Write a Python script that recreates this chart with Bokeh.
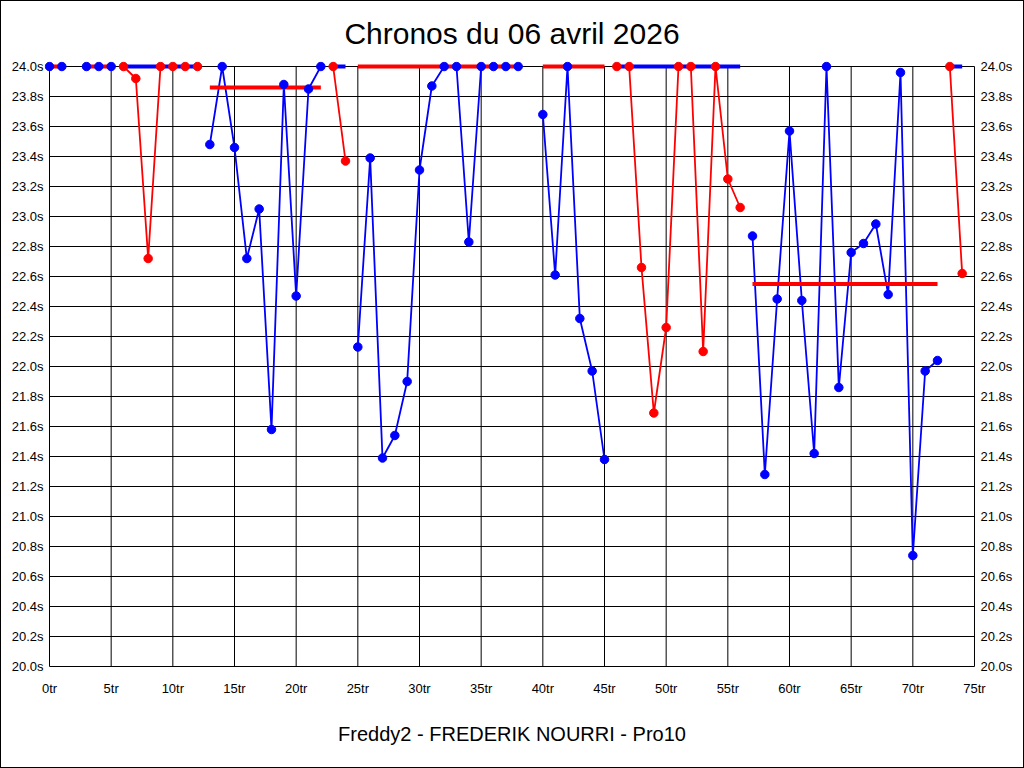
from bokeh.plotting import figure
from bokeh.models import Range1d, LinearAxis, FixedTicker, PrintfTickFormatter, Title
from bokeh.embed import file_html
from bokeh.resources import INLINE

TITLE = "Chronos du 06 avril 2026"
SUBTITLE = "Freddy2 - FREDERIK NOURRI - Pro10"

X_TICKS = [0, 5, 10, 15, 20, 25, 30, 35, 40, 45, 50, 55, 60, 65, 70, 75]
Y_TICKS = [20.0, 20.2, 20.4, 20.6, 20.8, 21.0, 21.2, 21.4, 21.6, 21.8,
           22.0, 22.2, 22.4, 22.6, 22.8, 23.0, 23.2, 23.4, 23.6, 23.8, 24.0]

# laps (tours) per stint
stint_laps = [
    [0, 1],
    [3, 4, 5],
    [6, 7, 8, 9, 10, 11, 12],
    [13, 14, 15, 16, 17, 18, 19, 20, 21, 22],
    [23, 24],
    [25, 26, 27, 28, 29, 30, 31, 32, 33, 34, 35, 36, 37, 38],
    [40, 41, 42, 43, 44, 45],
    [46, 47, 48, 49, 50, 51, 52, 53, 54, 55, 56],
    [57, 58, 59, 60, 61, 62, 63, 64, 65, 66, 67, 68, 69, 70, 71, 72],
    [73, 74],
]
# lap times in seconds (values above 24.0s shown at 24.0s)
stint_times = [
    [24.0, 24.0],
    [24.0, 24.0, 24.0],
    [24.0, 23.92, 22.72, 24.0, 24.0, 24.0, 24.0],
    [23.48, 24.0, 23.46, 22.72, 23.05, 21.58, 23.88, 22.47, 23.85, 24.0],
    [24.0, 23.37],
    [22.13, 23.39, 21.39, 21.54, 21.90, 23.31, 23.87, 24.0, 24.0, 22.83, 24.0, 24.0, 24.0, 24.0],
    [23.68, 22.61, 24.0, 22.32, 21.97, 21.38],
    [24.0, 24.0, 22.66, 21.69, 22.26, 24.0, 24.0, 22.10, 24.0, 23.25, 23.06],
    [22.87, 21.28, 22.45, 23.57, 22.44, 21.42, 24.0, 21.86, 22.76, 22.82, 22.95, 22.48, 23.96, 20.74, 21.97, 22.04],
    [24.0, 22.62],
]
stint_colors = ["#0000FF", "#0000FF", "#FF0000", "#0000FF", "#FF0000",
                "#0000FF", "#0000FF", "#FF0000", "#0000FF", "#FF0000"]
mean_colors = ["#FF0000", "#FF0000", "#0000FF", "#FF0000", "#0000FF",
               "#FF0000", "#FF0000", "#0000FF", "#FF0000", "#0000FF"]
stint_means = [24.0, 24.0, 24.0, 23.86, 24.0, 24.0, 24.0, 24.0, 22.55, 24.0]

FONT = "Liberation Sans"
pad_x = 5 / 12.333
pad_y = 5 / 150.0

p = figure(frame_width=935, frame_height=610,
           min_border_left=43, min_border_right=44,
           min_border_top=60, min_border_bottom=96,
           x_range=Range1d(X_TICKS[0] - pad_x, X_TICKS[-1] + pad_x),
           y_range=Range1d(Y_TICKS[0] - pad_y, Y_TICKS[-1] + pad_y),
           output_backend="svg", toolbar_location=None, tools="",
           styles={"border": "1px solid black"})

p.background_fill_color = "white"
p.border_fill_color = "white"
p.outline_line_color = None
p.xgrid.visible = False
p.ygrid.visible = False

# grid drawn within the data area only
p.segment(x0=X_TICKS, x1=X_TICKS, y0=[Y_TICKS[0]] * len(X_TICKS), y1=[Y_TICKS[-1]] * len(X_TICKS),
          line_color="black", line_width=1)
p.segment(x0=[X_TICKS[0]] * len(Y_TICKS), x1=[X_TICKS[-1]] * len(Y_TICKS), y0=Y_TICKS, y1=Y_TICKS,
          line_color="black", line_width=1)

for laps, times, col in zip(stint_laps, stint_times, stint_colors):
    p.line(laps, times, line_color=col, line_width=1.8)

for laps, m, col in zip(stint_laps, stint_means, mean_colors):
    p.line([laps[0], laps[-1]], [m, m], line_color=col, line_width=4)

for laps, times, col in zip(stint_laps, stint_times, stint_colors):
    p.scatter(laps, times, size=8.5, marker="circle", fill_color=col, line_color=col)

def style_axis(ax):
    ax.axis_line_color = None
    ax.major_tick_line_color = None
    ax.minor_tick_line_color = None
    ax.major_tick_out = 0
    ax.major_tick_in = 0
    ax.minor_tick_out = 0
    ax.minor_tick_in = 0
    ax.major_label_text_font = FONT
    ax.major_label_text_font_size = "13px"
    ax.major_label_text_color = "black"

p.xaxis.ticker = FixedTicker(ticks=X_TICKS)
p.xaxis.formatter = PrintfTickFormatter(format="%dtr")
p.xaxis.major_label_standoff = 9
style_axis(p.xaxis[0])

p.yaxis.ticker = FixedTicker(ticks=Y_TICKS)
p.yaxis.formatter = PrintfTickFormatter(format="%.1fs")
p.yaxis.major_label_standoff = 1
style_axis(p.yaxis[0])

right = LinearAxis(ticker=FixedTicker(ticks=Y_TICKS), formatter=PrintfTickFormatter(format="%.1fs"))
right.major_label_standoff = 1
style_axis(right)
p.add_layout(right, "right")

p.title.text = TITLE
p.title.align = "center"
p.title.text_font = FONT
p.title.text_font_size = "30px"
p.title.text_font_style = "normal"
p.title.text_color = "black"
p.title.standoff = 23

foot = Title(text=SUBTITLE, align="center", text_font=FONT, text_font_size="20px",
             text_font_style="normal", text_color="black", standoff=45)
p.add_layout(foot, "below")

open("out.html", "w").write(file_html(p, INLINE))
